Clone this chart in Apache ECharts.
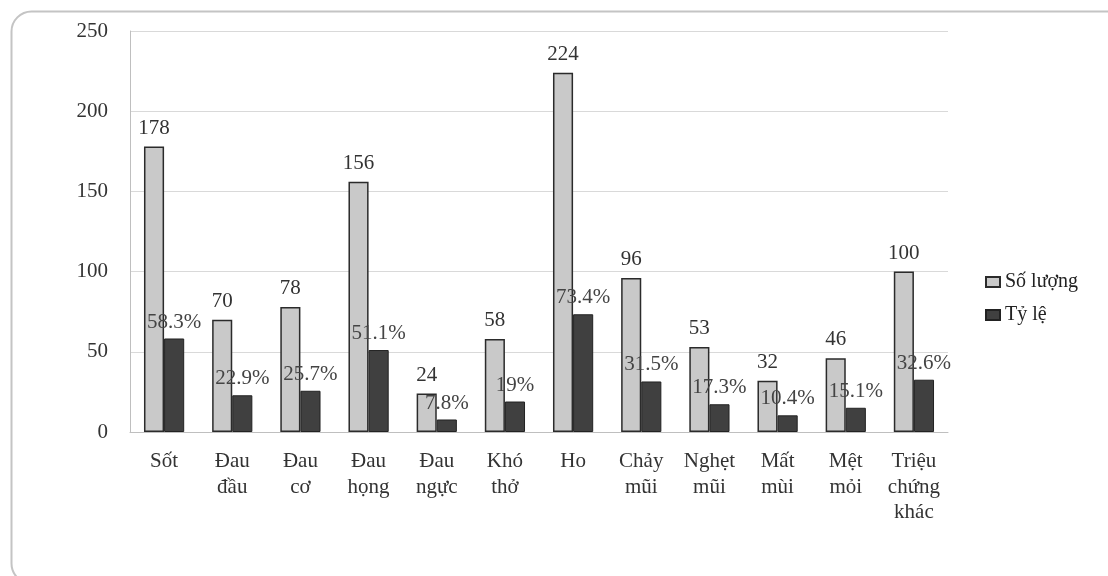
<!DOCTYPE html>
<html><head><meta charset="utf-8">
<script src="https://cdn.jsdelivr.net/npm/echarts@6/dist/echarts.min.js"></script>
<style>html,body{margin:0;padding:0;background:#fff}#c{width:1108px;height:576px}</style>
</head><body><div id="c"></div>
<script>
const categories = ['Sốt','Đau\nđầu','Đau\ncơ','Đau\nhọng','Đau\nngực','Khó\nthở','Ho','Chảy\nmũi','Nghẹt\nmũi','Mất\nmùi','Mệt\nmỏi','Triệu\nchứng\nkhác'];
const soLuong = [178,70,78,156,24,58,224,96,53,32,46,100];
const tyLe = [58.3,22.9,25.7,51.1,7.8,19,73.4,31.5,17.3,10.4,15.1,32.6];
const tyLeLabels = ['58.3%','22.9%','25.7%','51.1%','7.8%','19%','73.4%','31.5%','17.3%','10.4%','15.1%','32.6%'];
const yTicks = [0,50,100,150,200,250];

const font = 'Liberation Serif';
const chart = echarts.init(document.getElementById('c'));
chart.setOption({
  animation:false,
  textStyle:{fontFamily:font},
  graphic:[{type:'rect',left:9,top:9,shape:{width:1115,height:572,r:20},style:{fill:'none',stroke:'#c4c4c4',lineWidth:2},silent:true}],
  grid:{left:130,right:160,top:31,bottom:144,containLabel:false},
  legend:{orient:'vertical',left:980,top:267,itemWidth:14,itemHeight:10,itemGap:13,
    textStyle:{fontFamily:font,fontSize:20,color:'#222'},
    data:[{name:'Số lượng',icon:'rect'},{name:'Tỷ lệ',icon:'rect'}]},
  xAxis:{type:'category',data:categories,
    axisLine:{lineStyle:{color:'#bfbfbf',width:1}},axisTick:{show:false},
    axisLabel:{fontFamily:font,fontSize:21,color:'#333',lineHeight:25.5,margin:17,interval:0}},
  yAxis:{type:'value',min:0,max:250,interval:50,
    axisLine:{show:true,lineStyle:{color:'#bfbfbf'}},axisTick:{show:false},
    splitLine:{lineStyle:{color:'#d9d9d9',width:1}},
    axisLabel:{fontFamily:font,fontSize:21,color:'#333',margin:22,formatter:v=>yTicks.includes(v)?String(v):''}},
  series:[
    {name:'Số lượng',type:'bar',data:soLuong,barGap:'0%',barCategoryGap:'41%',
     itemStyle:{color:'#c9c9c9',borderColor:'#2b2b2b',borderWidth:1.5},
     label:{show:true,position:'top',distance:8,fontFamily:font,fontSize:21,color:'#333'}},
    {name:'Tỷ lệ',type:'bar',data:tyLe,
     itemStyle:{color:'#404040',borderColor:'#222',borderWidth:1},
     label:{show:true,position:'top',distance:6,fontFamily:font,fontSize:21,color:'#444',
       formatter:p=>tyLeLabels[p.dataIndex]}}
  ]
});
</script></body></html>
